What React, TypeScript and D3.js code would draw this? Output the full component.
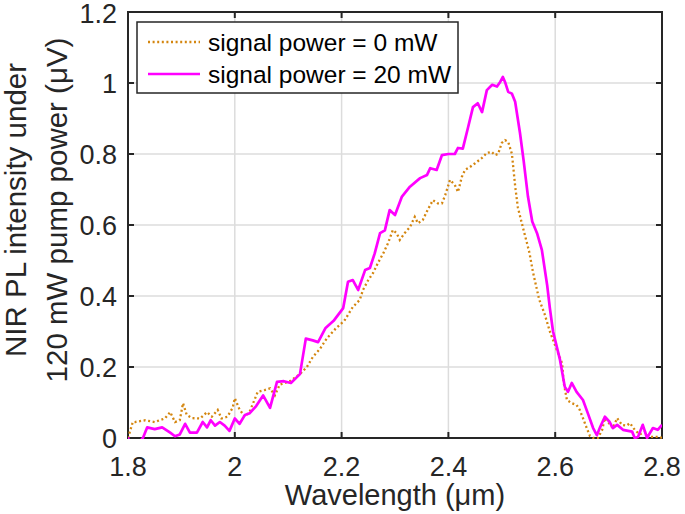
import React from "react";
import * as d3 from "d3";

// Series: signal power = 20 mW (magenta)
const wl20 = [
  1.8, 1.804, 1.812, 1.822, 1.828, 1.836, 1.85, 1.864, 1.879, 1.888, 1.897, 1.907, 1.916, 1.929, 1.94,
  1.948, 1.955, 1.963, 1.972, 1.981, 1.99, 2.0, 2.009, 2.019, 2.028, 2.04, 2.053, 2.066, 2.079,
  2.092, 2.105, 2.122, 2.133, 2.146, 2.156, 2.17, 2.185, 2.203, 2.212, 2.221, 2.231, 2.244, 2.253,
  2.262, 2.272, 2.281, 2.29, 2.3, 2.313, 2.328, 2.347, 2.36, 2.366, 2.378, 2.388, 2.4, 2.412,
  2.418, 2.427, 2.437, 2.446, 2.455, 2.463, 2.472, 2.482, 2.491, 2.497, 2.502, 2.506, 2.512,
  2.519, 2.525, 2.534, 2.541, 2.549, 2.557, 2.566, 2.575, 2.585, 2.59, 2.596, 2.609, 2.618,
  2.624, 2.631, 2.64, 2.652, 2.661, 2.671, 2.678, 2.684, 2.693, 2.702, 2.708, 2.716, 2.727,
  2.744, 2.749, 2.755, 2.764, 2.772, 2.777, 2.783, 2.792, 2.8,
];
const pl20 = [
  0.002, -0.03, -0.03, -0.01, 0.0, 0.03, 0.025, 0.03, 0.015, 0.005, 0.01, 0.04, 0.015, 0.015, 0.045,
  0.03, 0.05, 0.035, 0.045, 0.035, 0.02, 0.055, 0.04, 0.065, 0.07, 0.09, 0.12, 0.085, 0.158,
  0.16, 0.155, 0.18, 0.28, 0.275, 0.27, 0.31, 0.33, 0.366, 0.44, 0.445, 0.417, 0.473, 0.479,
  0.52, 0.577, 0.585, 0.642, 0.628, 0.68, 0.708, 0.732, 0.741, 0.76, 0.755, 0.797, 0.8, 0.8,
  0.817, 0.815, 0.876, 0.932, 0.943, 0.918, 0.98, 0.995, 0.99, 1.003, 1.017, 1.003, 0.975,
  0.97, 0.947, 0.86, 0.78, 0.68, 0.61, 0.577, 0.53, 0.43, 0.366, 0.3, 0.22, 0.144,
  0.13, 0.155, 0.13, 0.107, 0.07, 0.028, 0.008, 0.03, 0.06, 0.045, 0.028, 0.037, 0.023,
  0.018, 0.0, 0.003, 0.037, 0.0, 0.013, 0.028, 0.023, 0.037,
];

// Series: signal power = 0 mW (orange dotted)
const wl0 = [
  1.8, 1.809, 1.813, 1.832, 1.85, 1.869, 1.879, 1.888, 1.897, 1.903, 1.91, 1.92, 1.935, 1.948,
  1.957, 1.968, 1.975, 1.986, 1.996, 2.0, 2.009, 2.019, 2.028, 2.043, 2.056, 2.066, 2.075, 2.084,
  2.103, 2.122, 2.135, 2.146, 2.159, 2.172, 2.19, 2.205, 2.221, 2.234, 2.24, 2.25, 2.259, 2.268,
  2.278, 2.287, 2.296, 2.303, 2.309, 2.318, 2.328, 2.337, 2.343, 2.352, 2.361, 2.371, 2.38,
  2.388, 2.394, 2.403, 2.412, 2.418, 2.425, 2.431, 2.44, 2.45, 2.463, 2.472, 2.481, 2.487,
  2.493, 2.5, 2.506, 2.512, 2.519, 2.525, 2.53, 2.54, 2.547, 2.552, 2.558, 2.564, 2.57, 2.58,
  2.59, 2.603, 2.613, 2.616, 2.622, 2.631, 2.64, 2.646, 2.652, 2.659, 2.665, 2.671, 2.68,
  2.688, 2.693, 2.699, 2.708, 2.716, 2.725, 2.734, 2.74, 2.749, 2.758, 2.768, 2.777, 2.787,
  2.796, 2.8,
];
const pl0 = [
  0.0, 0.045, 0.045, 0.05, 0.045, 0.055, 0.073, 0.045, 0.05, 0.098, 0.065, 0.056, 0.055, 0.073,
  0.06, 0.079, 0.055, 0.06, 0.085, 0.112, 0.08, 0.06, 0.075, 0.13, 0.135, 0.14, 0.12, 0.15,
  0.16, 0.18, 0.2, 0.228, 0.25, 0.28, 0.31, 0.33, 0.369, 0.389, 0.417, 0.445, 0.465, 0.493,
  0.52, 0.549, 0.586, 0.577, 0.558, 0.577, 0.594, 0.623, 0.605, 0.614, 0.642, 0.67, 0.661,
  0.661, 0.684, 0.727, 0.713, 0.693, 0.735, 0.755, 0.763, 0.774, 0.789, 0.803, 0.806, 0.797,
  0.8, 0.831, 0.839, 0.834, 0.8, 0.71, 0.65, 0.59, 0.55, 0.52, 0.47, 0.43, 0.39, 0.35,
  0.3, 0.248, 0.21, 0.155, 0.107, 0.098, 0.093, 0.079, 0.056, 0.028, 0.006, 0.0, 0.0,
  0.023, 0.056, 0.045, 0.028, 0.056, 0.037, 0.035, 0.042, 0.023, 0.01, 0.017, 0.003, 0.003,
  0.003, 0.0,
];

const xTicks = [1.8, 2.0, 2.2, 2.4, 2.6, 2.8];
const yTicks = [0, 0.2, 0.4, 0.6, 0.8, 1.0, 1.2];
const legendLabels = ["signal power = 0 mW", "signal power = 20 mW"];
const xLabel = "Wavelength (\u03bcm)";
const yLabelLines = ["NIR PL intensity under", "120 mW pump power (\u03bcV)"];

const FONT = "'Liberation Sans', Arial, Helvetica, sans-serif";
const ORANGE = "#D4860F";
const MAGENTA = "#FF00FF";
const AX = "#262626";

export default function App() {
  const W = 685;
  const H = 514;
  const x = d3.scaleLinear().domain([1.8, 2.8]).range([128, 662]);
  const y = d3.scaleLinear().domain([0, 1.2]).range([438, 12]);
  const [x0, x1] = x.range();
  const [yb, yt] = y.range();

  const line = d3
    .line<[number, number]>()
    .x((d) => x(d[0]))
    .y((d) => y(d[1]));

  const d20 = line(wl20.map((w, i) => [w, pl20[i]] as [number, number])) || "";
  const d0 = line(wl0.map((w, i) => [w, pl0[i]] as [number, number])) || "";

  const fmt = (v: number) => String(+v.toFixed(1));
  const tickLen = 6;

  return (
    <svg
      width={W}
      height={H}
      style={{ position: "absolute", left: 0, top: 0, background: "#fff" }}
      fontFamily={FONT}
    >
      <defs>
        <clipPath id="plotclip">
          <rect x={x0} y={yt - 2} width={x1 - x0} height={yb - yt + 3} />
        </clipPath>
      </defs>
      <rect x={0} y={0} width={W} height={H} fill="#fff" />
      {/* grid */}
      <g stroke="#dcdcdc" strokeWidth={1.5}>
        {xTicks.slice(1, -1).map((t) => (
          <line key={"gx" + t} x1={x(t)} x2={x(t)} y1={yt} y2={yb} />
        ))}
        {yTicks.slice(1, -1).map((t) => (
          <line key={"gy" + t} x1={x0} x2={x1} y1={y(t)} y2={y(t)} />
        ))}
      </g>
      {/* axes box */}
      <rect x={x0} y={yt} width={x1 - x0} height={yb - yt} fill="none" stroke={AX} strokeWidth={2} />
      {/* ticks */}
      <g stroke={AX} strokeWidth={2}>
        {xTicks.map((t) => (
          <g key={"tx" + t}>
            <line x1={x(t)} x2={x(t)} y1={yb} y2={yb - tickLen} />
            <line x1={x(t)} x2={x(t)} y1={yt} y2={yt + tickLen} />
          </g>
        ))}
        {yTicks.map((t) => (
          <g key={"ty" + t}>
            <line x1={x0} x2={x0 + tickLen} y1={y(t)} y2={y(t)} />
            <line x1={x1} x2={x1 - tickLen} y1={y(t)} y2={y(t)} />
          </g>
        ))}
      </g>
      {/* data */}
      <g clipPath="url(#plotclip)" fill="none">
        <path d={d0} stroke={ORANGE} strokeWidth={2.3} strokeDasharray="2 2.6" />
        <path d={d20} stroke={MAGENTA} strokeWidth={2.7} strokeLinejoin="round" />
      </g>
      {/* tick labels */}
      <g fill={AX} fontSize={27}>
        {xTicks.map((t) => (
          <text key={"lx" + t} x={x(t)} y={476} textAnchor="middle">
            {fmt(t)}
          </text>
        ))}
        {yTicks.map((t) => (
          <text key={"ly" + t} x={117} y={Math.max(y(t) + 9.5, 23)} textAnchor="end">
            {fmt(t)}
          </text>
        ))}
      </g>
      {/* axis labels */}
      <text x={(x0 + x1) / 2} y={505} textAnchor="middle" fontSize={29} fill={AX}>
        {xLabel}
      </text>
      {yLabelLines.map((s, i) => (
        <text
          key={s}
          transform={`translate(${i === 0 ? 26 : 67},${210}) rotate(-90)`}
          textAnchor="middle"
          fontSize={29.5}
          fill={AX}
        >
          {s}
        </text>
      ))}
      {/* legend */}
      <g>
        <rect x={137} y={22} width={321} height={71} fill="#fff" stroke={AX} strokeWidth={1.5} />
        <line x1={148} x2={200} y1={42} y2={42} stroke={ORANGE} strokeWidth={2.3} strokeDasharray="2 2.6" />
        <line x1={148} x2={200} y1={74} y2={74} stroke={MAGENTA} strokeWidth={2.7} />
        <text x={208} y={50.5} fontSize={24.5} fill="#000">
          {legendLabels[0]}
        </text>
        <text x={208} y={82.5} fontSize={24.5} fill="#000">
          {legendLabels[1]}
        </text>
      </g>
    </svg>
  );
}
